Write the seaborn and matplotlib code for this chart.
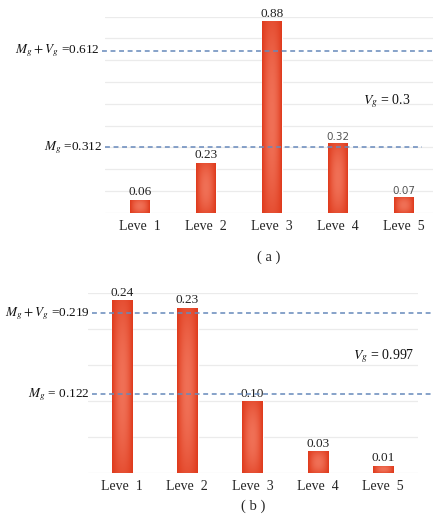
import numpy as np
import pandas as pd
import matplotlib
matplotlib.use("Agg")
import matplotlib.pyplot as plt
from matplotlib.colors import LinearSegmentedColormap
import seaborn as sns

# data
levels = ["Leve  1", "Leve  2", "Leve  3", "Leve  4", "Leve  5"]
share_a = [0.06, 0.23, 0.88, 0.32, 0.07]
share_b = [0.24, 0.23, 0.10, 0.03, 0.01]
labels_a = ["0.06", "0.23", "0.88", "0.32", "0.07"]
labels_b = ["0.24", "0.23", "0.10", "0.03", "0.01"]
# reference lines: (position as drawn, text)
ref_a = [(0.742, r"$M_g+V_g$ =0.612"), (0.300, r"$M_g$ =0.312")]
ref_b = [(0.222, r"$M_g+V_g$ =0.219"), (0.109, r"$M_g$ = 0.122")]
vg_a = r"$V_g$ = 0.3"
vg_b = r"$V_g$ = 0.997"

SERIF = ["Liberation Serif", "Noto Sans CJK SC", "DejaVu Serif"]
BAR_CMAP = LinearSegmentedColormap.from_list("bar", ["#df3a1c", "#f07056"])
DASH = "#6689bb"


def shade_bars(ax):
    """paint a soft gradient into every bar drawn by seaborn"""
    gx = np.linspace(-1, 1, 40)
    gy = np.linspace(-1, 1, 80)
    X, Y = np.meshgrid(gx, gy)
    val = (1 - X**2) * (1 - 0.6 * Y**2)
    for p in ax.patches:
        x0, y0 = p.get_x(), p.get_y()
        w, h = p.get_width(), p.get_height()
        im = ax.imshow(val, cmap=BAR_CMAP, extent=[x0, x0 + w, y0, y0 + h],
                       aspect="auto", zorder=p.get_zorder() + 0.1,
                       interpolation="bilinear")
        im.set_clip_path(p)


def panel(ax, vals, texts, refs, vg, vg_pos, ymax, step, width, xlim,
          dash_ext, caption, small=()):
    """draw one of the two bar panels"""
    df = pd.DataFrame({"level": levels, "value": vals})
    sns.barplot(data=df, x="level", y="value", color="#e4421f", width=width,
                saturation=1, ax=ax, zorder=3)
    shade_bars(ax)
    ax.set_xlim(*xlim)
    ax.set_ylim(0, ymax)
    ax.set_yticks(np.arange(0, ymax + step / 2, step))
    ax.yaxis.grid(True, color="#ebebeb", lw=0.9)
    ax.set_axisbelow(True)
    for s in ax.spines.values():
        s.set_visible(False)
    ax.tick_params(axis="y", length=0, labelleft=False)
    ax.tick_params(axis="x", length=0, pad=5)
    ax.set_xlabel("")
    ax.set_ylabel("")
    for t in ax.get_xticklabels():
        t.set_fontfamily(SERIF)
        t.set_fontsize(10)
    for i, (v, s) in enumerate(zip(vals, texts)):
        if i in small:
            ax.annotate(s, (i, v), xytext=(0, 1), textcoords="offset points",
                        ha="center", va="bottom", fontsize=7.5,
                        color="#555555", family="DejaVu Sans",
                        annotation_clip=False)
        else:
            ax.annotate(s, (i, v), xytext=(0, 1), textcoords="offset points",
                        ha="center", va="bottom", fontsize=9.5,
                        color="#222222", family=SERIF,
                        annotation_clip=False)
    tr = ax.get_yaxis_transform()
    for (y, s), (x0, x1) in zip(refs, dash_ext):
        ax.axhline(y, xmin=x0, xmax=x1, color=DASH, lw=1.1,
                   ls=(0, (3.2, 2.4)), clip_on=False, zorder=4)
        ax.text(x0 - 0.008, y, s, transform=tr, ha="right", va="center",
                fontsize=9.5, family=SERIF, color="#111111")
    ax.text(vg_pos[0], vg_pos[1], vg, ha="center", va="center",
            fontsize=10, family=SERIF, color="#111111")
    ax.text(0.5, caption[1], caption[0], transform=ax.transAxes,
            ha="center", va="center", fontsize=10.5, family=SERIF)


if __name__ == "__main__":
    plt.rcParams["mathtext.fontset"] = "stix"
    sns.set_style("white")
    fig = plt.figure(figsize=(4.33, 5.22), dpi=100)

    ax_a = fig.add_axes([0.2425, 0.5925, 0.7575, 0.3755])
    panel(ax_a, share_a, labels_a, ref_a, vg_a, (3.74, 0.51), 0.9, 0.1,
          0.3, (-0.53, 4.44), [(-0.01, 1.0), (0.0, 0.966)],
          ("( a )", -0.226), small=(3, 4))

    ax_b = fig.add_axes([0.2032, 0.0944, 0.762, 0.3437])
    panel(ax_b, share_b, labels_b, ref_b, vg_b, (4.01, 0.163), 0.25, 0.05,
          0.32, (-0.52, 4.53), [(0.012, 1.05), (0.012, 1.05)],
          ("( b )", -0.186))

    fig.savefig("out.png", dpi=100)
